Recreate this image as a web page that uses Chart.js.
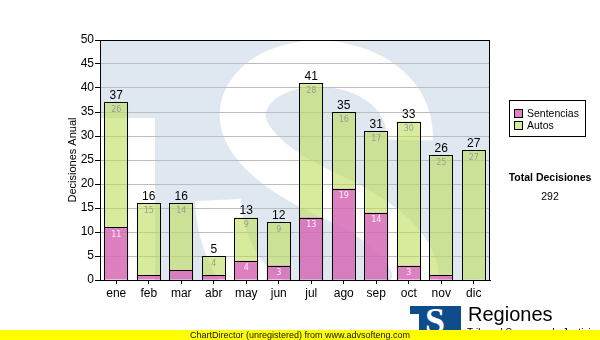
<!DOCTYPE html>
<html>
<head>
<meta charset="utf-8">
<script src="https://cdn.jsdelivr.net/npm/chart.js@4"></script>
<style>
  body { margin: 0; background: #fff; }
  #wrap { position: relative; width: 600px; height: 340px; overflow: hidden; font-family: 'Liberation Sans', Arial, sans-serif; }
  canvas { position: absolute; left: 0; top: 0; }
  .legend { position: absolute; left: 509px; top: 100px; width: 75px; height: 35px; border: 1px solid #000; background: #fff; font-size: 10.5px; }
  .legend div { position: absolute; left: 4px; height: 12px; line-height: 12px; }
  .legend span { display: inline-block; width: 7px; height: 7px; border: 1px solid #000; margin-right: 4px; vertical-align: -1px; }
  .total { position: absolute; left: 500px; width: 100px; text-align: center; font-size: 10.5px; }
  .logo { position: absolute; left: 410px; top: 306px; width: 51px; height: 30px; background: #0f4c8c; overflow: hidden; }
  .logo .s { position: absolute; left: 15px; top: -6px; font: bold 36px 'Liberation Serif', serif; color: #fff; }
  .logo .t { position: absolute; left: 0; top: 8px; width: 9px; height: 30px; background: #fff; }
  .brand { position: absolute; left: 468px; top: 303px; font-size: 20px; color: #000; }
  .sub { position: absolute; left: 467px; top: 327px; font-size: 10px; color: #000; }
  .bar { position: absolute; left: 0; top: 330px; width: 600px; height: 10px; background: #ffff00; font-size: 9px; line-height: 10px; }
  .bar span { position: absolute; left: 190px; top: 0; color: #111; }
</style>
</head>
<body>
<div id="wrap">
  <canvas id="chart" width="600" height="340"></canvas>
  <div class="legend">
    <div style="top:6px"><span style="background:#df82c2"></span>Sentencias</div>
    <div style="top:18px"><span style="background:#d6ec9a"></span>Autos</div>
  </div>
  <div class="total" style="top:171px;font-weight:bold">Total Decisiones</div>
  <div class="total" id="total" style="top:190px"></div>
  <div class="logo"><div class="t"></div><div class="s">S</div></div>
  <div class="brand">Regiones</div>
  <div class="sub">Tribunal Supremo de Justicia</div>
  <div class="bar"><span>ChartDirector (unregistered) from www.advsofteng.com</span></div>
</div>
<script>
const months = ['ene', 'feb', 'mar', 'abr', 'may', 'jun', 'jul', 'ago', 'sep', 'oct', 'nov', 'dic'];
const sentencias = [11, 1, 2, 1, 4, 3, 13, 19, 14, 3, 1, 0];
const autos = [26, 15, 14, 4, 9, 9, 28, 16, 17, 30, 25, 27];
const seriesNames = ['Sentencias', 'Autos'];
const yMax = 50;
const yStep = 5;

const totals = months.map((m, i) => sentencias[i] + autos[i]);
document.getElementById('total').textContent = totals.reduce((a, b) => a + b, 0);

// light blue plot background with the big white "S" behind the bars
const watermark = {
    id: 'watermark',
    beforeDraw(chart) {
        const { ctx, chartArea: a } = chart;
        ctx.save();
        ctx.beginPath();
        ctx.rect(a.left, a.top, a.right - a.left, a.bottom - a.top);
        ctx.clip();
        ctx.fillStyle = '#dfe8f1';
        ctx.fillRect(a.left, a.top, a.right - a.left, a.bottom - a.top);
        ctx.fillStyle = '#fff';
        ctx.fillRect(a.left, 118, 155 - a.left, a.bottom - 118);
        ctx.strokeStyle = '#fff';
        ctx.lineWidth = 46;
        ctx.lineCap = 'butt';
        ctx.beginPath();
        ctx.moveTo(410, 140);
        ctx.bezierCurveTo(412, 60, 290, 42, 252, 90);
        ctx.bezierCurveTo(222, 128, 268, 168, 330, 196);
        ctx.bezierCurveTo(420, 236, 442, 292, 380, 312);
        ctx.bezierCurveTo(300, 334, 222, 292, 218, 200);
        ctx.stroke();
        ctx.restore();
    }
};

// crisp black outlines, value labels inside the segments, totals above each stack, plot frame
const labels = {
    id: 'labels',
    afterDatasetsDraw(chart) {
        const { ctx, chartArea: a } = chart;
        ctx.save();
        ctx.strokeStyle = '#000';
        ctx.lineWidth = 1;
        chart.data.datasets.forEach((ds, di) => {
            chart.getDatasetMeta(di).data.forEach((bar, i) => {
                if (!ds.data[i]) return;
                const l = Math.round(bar.x - bar.width / 2);
                const r = Math.round(bar.x + bar.width / 2);
                const t = Math.round(bar.y);
                const b = Math.round(bar.base);
                ctx.strokeRect(l + 0.5, t + 0.5, r - l - 1, b - t);
            });
        });
        ctx.textAlign = 'center';
        ctx.textBaseline = 'middle';
        ctx.font = "8px 'DejaVu Sans', sans-serif";
        chart.data.datasets.forEach((ds, di) => {
            chart.getDatasetMeta(di).data.forEach((bar, i) => {
                const v = ds.data[i];
                if (v < 3) return;
                ctx.fillStyle = di === 0 ? '#fbeef7' : '#9c9c9c';
                ctx.fillText(v, bar.x, bar.y + 7.5);
            });
        });
        const top = chart.getDatasetMeta(1).data;
        ctx.fillStyle = '#000';
        ctx.font = "12px 'Liberation Sans', Arial, sans-serif";
        top.forEach((bar, i) => {
            ctx.fillText(totals[i], bar.x, bar.y - 6.5);
        });
        ctx.strokeRect(Math.round(a.left) + 0.5, Math.round(a.top) + 0.5, a.right - a.left - 1, a.bottom - a.top);
        ctx.restore();
    }
};

Chart.defaults.font.family = "'Liberation Sans', Arial, sans-serif";
Chart.defaults.color = '#000';

new Chart(document.getElementById('chart'), {
    type: 'bar',
    data: {
        labels: months,
        datasets: [
            {
                label: seriesNames[0],
                data: sentencias,
                backgroundColor: 'rgba(214, 100, 178, 0.82)',
                borderWidth: 0,
            },
            {
                label: seriesNames[1],
                data: autos,
                backgroundColor: 'rgba(190, 222, 90, 0.6)',
                borderWidth: 0,
            },
        ],
    },
    options: {
        responsive: false,
        animation: false,
        layout: { padding: { left: 64, top: 40, right: 110, bottom: 0 } },
        datasets: { bar: { barPercentage: 0.73, categoryPercentage: 1 } },
        plugins: { legend: { display: false }, tooltip: { enabled: false } },
        scales: {
            x: {
                stacked: true,
                afterFit: (s) => { s.height = 60; },
                grid: { offset: false, drawOnChartArea: false, tickLength: 4, tickColor: '#000' },
                border: { color: '#000' },
                ticks: { font: { size: 12 }, padding: 2 },
            },
            y: {
                stacked: true,
                min: 0,
                max: yMax,
                afterFit: (s) => { s.width = 36; },
                grid: { color: '#bdbdbd', tickLength: 5, tickColor: '#000' },
                border: { color: '#000' },
                ticks: { stepSize: yStep, font: { size: 12 }, padding: 1 },
                title: { display: true, text: 'Decisiones Anual', font: { size: 11 }, padding: 2 },
            },
        },
    },
    plugins: [watermark, labels],
});
</script>
</body>
</html>
